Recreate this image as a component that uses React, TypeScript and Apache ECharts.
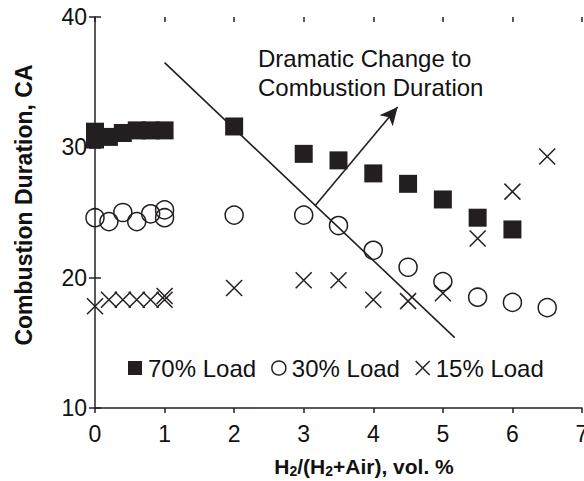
import React, { useEffect, useRef } from "react";
import * as echarts from "echarts";

const xs70 = [0, 0, 0.2, 0.4, 0.6, 0.8, 1, 2, 3, 3.5, 4, 4.5, 5, 5.5, 6];
const load70 = [31.2, 30.6, 30.8, 31.1, 31.3, 31.3, 31.3, 31.6, 29.5, 29.0, 28.0, 27.2, 26.0, 24.6, 23.7];
const xs30 = [0, 0.2, 0.4, 0.6, 0.8, 1, 1, 2, 3, 3.5, 4, 4.5, 5, 5.5, 6, 6.5];
const load30 = [24.6, 24.3, 25.0, 24.3, 24.9, 25.2, 24.6, 24.8, 24.8, 24.0, 22.1, 20.8, 19.7, 18.5, 18.1, 17.7];
const xs15 = [0, 0.2, 0.4, 0.6, 0.8, 1, 1, 2, 3, 3.5, 4, 4.5, 5, 5.5, 6, 6.5];
const load15 = [17.8, 18.3, 18.3, 18.3, 18.3, 18.3, 18.6, 19.2, 19.8, 19.8, 18.3, 18.2, 18.8, 23.0, 26.6, 29.3];

const seriesNames = ["70% Load", "30% Load", "15% Load"];
const trendLine = [[1.0, 36.5], [5.17, 15.4]];
const arrowLine = [[3.16, 25.5], [4.35, 33.1]];
const annotationLines = ["Dramatic Change to", "Combustion Duration"];

const FONT = "'Liberation Sans', Arial, sans-serif";
const CROSS = "path://M0,0L10,10M10,0L0,10";

function pairs(xs: number[], ys: number[]) {
  return xs.map((x, i) => [x, ys[i]]);
}

export default function App() {
  const ref = useRef<HTMLDivElement>(null);
  useEffect(() => {
    if (!ref.current) return;
    const chart = echarts.init(ref.current, undefined, { renderer: "svg" });
    const axisBase = {
      type: "value" as const,
      axisLine: { show: true, lineStyle: { color: "#222", width: 1.5 } },
      splitLine: { show: false },
    };
    chart.setOption({
      animation: false,
      backgroundColor: "#fff",
      grid: { left: 95, right: 2, top: 17, bottom: 73, containLabel: false, outerBoundsMode: "none" },
      xAxis: [
        {
          ...axisBase,
          min: 0,
          max: 7,
          interval: 1,
          axisTick: { show: true, inside: false, length: 5, lineStyle: { color: "#222", width: 1.5 } },
          axisLabel: { color: "#111", fontSize: 23, fontFamily: FONT, margin: 14, showMaxLabel: true },
        },
        {
          ...axisBase,
          min: 0,
          max: 7,
          interval: 1,
          axisLine: { show: false },
          axisTick: { show: true, inside: true, length: 5, lineStyle: { color: "#222", width: 1.5 } },
          axisLabel: { show: false },
        },
      ],
      yAxis: [
        {
          ...axisBase,
          min: 10,
          max: 40,
          interval: 10,
          axisTick: { show: true, inside: false, length: 6, lineStyle: { color: "#222", width: 1.5 } },
          axisLabel: { color: "#111", fontSize: 23, fontFamily: FONT, margin: 8 },
        },
        {
          ...axisBase,
          position: "left",
          min: 10,
          max: 40,
          interval: 10,
          axisLine: { show: false },
          axisTick: { show: true, inside: true, length: 6, lineStyle: { color: "#222", width: 1.5 } },
          axisLabel: { show: false },
        },
      ],
      legend: {
        left: 123,
        top: 351,
        itemGap: 15,
        itemWidth: 14,
        itemHeight: 14,
        textStyle: { color: "#111", fontSize: 24, fontFamily: FONT, padding: [0, 0, 0, 1] },
        data: [
          { name: seriesNames[0], icon: "rect", itemStyle: { color: "#231f20", borderWidth: 0 } },
          { name: seriesNames[1], icon: "circle", itemStyle: { color: "transparent", borderColor: "#231f20", borderWidth: 1.5 } },
          { name: seriesNames[2], icon: CROSS, itemStyle: { color: "transparent", borderColor: "#231f20", borderWidth: 1.5 } },
        ],
      },
      graphic: [
        {
          type: "text",
          x: 258,
          y: 58,
          style: { text: annotationLines[0], fontSize: 24, fontFamily: FONT, fill: "#111", verticalAlign: "middle" },
        },
        {
          type: "text",
          x: 258,
          y: 87,
          style: { text: annotationLines[1], fontSize: 24, fontFamily: FONT, fill: "#111", verticalAlign: "middle" },
        },
        {
          type: "text",
          x: 24,
          y: 205,
          rotation: Math.PI / 2,
          style: {
            text: "Combustion Duration, CA",
            fontSize: 23,
            fontWeight: "bold",
            fontFamily: FONT,
            fill: "#111",
            align: "center",
            verticalAlign: "middle",
          },
        },
        {
          type: "text",
          x: 364,
          y: 467,
          style: {
            text: "{b|H}{s|2}{b|/(H}{s|2}{b|+Air), vol. %}",
            align: "center",
            verticalAlign: "middle",
            rich: {
              b: { fontSize: 21, fontWeight: "bold", fontFamily: FONT, fill: "#111", lineHeight: 22, verticalAlign: "top" },
              s: { fontSize: 14, fontWeight: "bold", fontFamily: FONT, fill: "#111", lineHeight: 13, verticalAlign: "bottom" },
            },
          },
        },
      ],
      series: [
        {
          name: seriesNames[0],
          type: "scatter",
          symbol: "rect",
          symbolSize: 18,
          itemStyle: { color: "#231f20", opacity: 1 },
          data: pairs(xs70, load70),
          z: 3,
          markLine: {
            silent: true,
            symbol: ["none", "none"],
            label: { show: false },
            lineStyle: { color: "#231f20", width: 1.6, type: "solid" },
            data: [[{ coord: trendLine[0] }, { coord: trendLine[1] }]],
          },
        },
        {
          name: seriesNames[1],
          type: "scatter",
          symbol: "circle",
          symbolSize: 18,
          itemStyle: { color: "transparent", borderColor: "#231f20", borderWidth: 1.5, opacity: 1 },
          data: pairs(xs30, load30),
          z: 3,
          markLine: {
            silent: true,
            symbol: ["none", "arrow"],
            symbolSize: [13, 18],
            label: { show: false },
            lineStyle: { color: "#231f20", width: 1.6, type: "solid" },
            data: [[{ coord: arrowLine[0] }, { coord: arrowLine[1] }]],
          },
        },
        {
          name: seriesNames[2],
          type: "scatter",
          symbol: CROSS,
          symbolSize: 16,
          itemStyle: { color: "transparent", borderColor: "#231f20", borderWidth: 1.5, opacity: 1 },
          data: pairs(xs15, load15),
          z: 3,
        },
      ],
    });
    return () => chart.dispose();
  }, []);
  return <div ref={ref} style={{ position: "fixed", left: 0, top: 0, width: 584, height: 481 }} />;
}
